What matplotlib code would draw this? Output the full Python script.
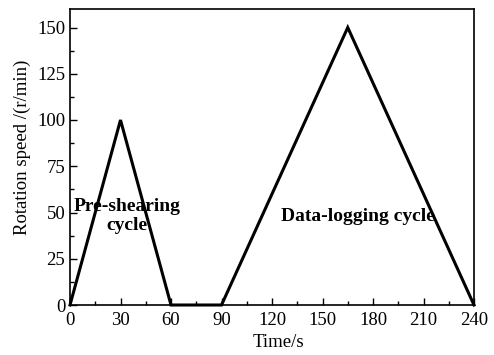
import matplotlib
matplotlib.use("Agg")
import matplotlib.pyplot as plt
from matplotlib.ticker import MultipleLocator

time_s = [0, 30, 60, 90, 165, 240]
speed = [0, 100, 0, 0, 150, 0]
xticks = [0, 30, 60, 90, 120, 150, 180, 210, 240]
yticks = [0, 25, 50, 75, 100, 125, 150]

plt.rcParams['font.family'] = ['Liberation Serif', 'DejaVu Serif']
fig = plt.figure(figsize=(4.94, 3.55), dpi=100)
ax = fig.add_axes([70/494, 1-305/355, 404/494, 296/355])
ax.plot(time_s, speed, color='black', lw=2.2, solid_joinstyle='miter', clip_on=False)
ax.set_xlim(0, 240)
ax.set_ylim(0, 160)
ax.set_xticks(xticks)
ax.set_yticks(yticks)
ax.xaxis.set_minor_locator(MultipleLocator(15))
ax.yaxis.set_minor_locator(MultipleLocator(12.5))
ax.tick_params(which='both', direction='in', top=False, right=False, labelsize=13.5, width=1)
ax.tick_params(axis='x', pad=5)
ax.tick_params(which='major', length=5)
ax.tick_params(which='minor', length=3)
for s in ax.spines.values():
    s.set_linewidth(1.2)
ax.set_xlabel('Time/s', fontsize=13.5, va='center')
ax.set_ylabel('Rotation speed /(r/min)', fontsize=13.5, va='center')
ax.xaxis.set_label_coords(0.517, -0.128)
ax.yaxis.set_label_coords(-0.117, 0.534)
ax.text(34, 48, 'Pre-shearing\ncycle', ha='center', va='center', fontsize=14, fontweight='bold', linespacing=1.2)
ax.text(171, 48, 'Data-logging cycle', ha='center', va='center', fontsize=14, fontweight='bold')
fig.savefig('out.png', dpi=100)
